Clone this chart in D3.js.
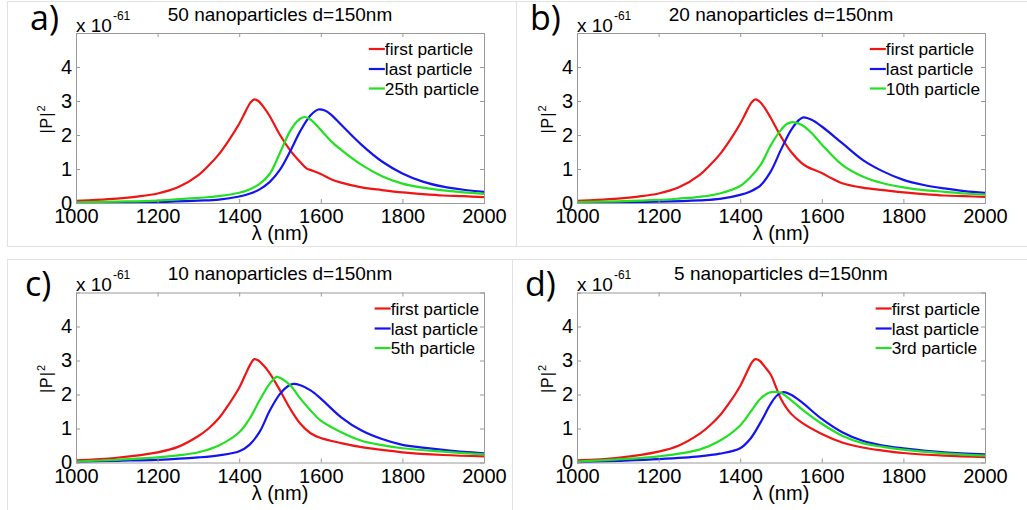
<!DOCTYPE html>
<html><head><meta charset="utf-8">
<script src="https://cdn.jsdelivr.net/npm/d3@7"></script>
<style>
html,body{margin:0;padding:0;background:#fff;}
svg{display:block;font-family:"Liberation Sans",Arial,sans-serif;}
</style></head>
<body>
<svg id="chart" width="1027" height="510"></svg>
<script>
// ---- data ----
const xTicks = [1000, 1200, 1400, 1600, 1800, 2000];
const yTicks = [0, 1, 2, 3, 4, 5];
const yTickLabels = ["0", "1", "2", "3", "4", ""];
const panelLetters = ["a)", "b)", "c)", "d)"];
const panelTitles = ["50 nanoparticles d=150nm", "20 nanoparticles d=150nm", "10 nanoparticles d=150nm", "5 nanoparticles d=150nm"];
const legendLabels = [
  ["first particle", "last particle", "25th particle"],
  ["first particle", "last particle", "10th particle"],
  ["first particle", "last particle", "5th particle"],
  ["first particle", "last particle", "3rd particle"]
];
const seriesColors = ["#f01414", "#1414f0", "#22e022"];

const a_first = [[1000,.06],[1050,.09],[1100,.13],[1150,.19],[1200,.28],[1250,.46],[1300,.82],[1325,1.1],[1350,1.43],[1375,1.85],[1400,2.33],[1415,2.68],[1428,2.96],[1437,3.05],[1447,3.0],[1460,2.82],[1475,2.55],[1500,2.0],[1525,1.55],[1550,1.2],[1565,1.02],[1580,0.95],[1600,0.85],[1625,0.7],[1650,0.6],[1700,0.46],[1750,0.38],[1800,0.31],[1850,0.26],[1900,0.22],[1950,0.2],[2000,0.17]];
const a_last = [[1000,.01],[1100,.02],[1200,.03],[1300,.07],[1350,.1],[1400,.19],[1425,.27],[1450,.4],[1475,.62],[1500,.98],[1525,1.52],[1550,2.12],[1575,2.58],[1594,2.75],[1610,2.72],[1625,2.6],[1650,2.3],[1700,1.71],[1750,1.22],[1800,.87],[1850,.63],[1900,.48],[1950,.39],[2000,.33]];
const a_mid = [[1000,.02],[1100,.04],[1200,.07],[1300,.15],[1350,.2],[1400,.3],[1425,.4],[1450,.56],[1475,.86],[1500,1.48],[1525,2.12],[1545,2.44],[1561,2.53],[1575,2.45],[1600,2.15],[1625,1.82],[1650,1.56],[1700,1.12],[1750,.79],[1800,.57],[1850,.45],[1900,.37],[1950,.31],[2000,.27]];

const b_first = [[1000,.06],[1050,.09],[1100,.13],[1150,.19],[1200,.28],[1250,.46],[1300,.82],[1325,1.1],[1350,1.43],[1375,1.85],[1400,2.33],[1415,2.68],[1428,2.96],[1437,3.05],[1447,2.99],[1460,2.8],[1475,2.5],[1500,1.95],[1525,1.5],[1550,1.18],[1565,1.06],[1600,0.88],[1625,0.72],[1650,0.58],[1700,0.45],[1750,0.38],[1800,0.31],[1850,0.26],[1900,0.22],[1950,0.2],[2000,0.18]];
const b_last = [[1000,.01],[1100,.02],[1200,.04],[1300,.08],[1350,.12],[1400,.24],[1425,.34],[1450,.52],[1475,.93],[1500,1.57],[1525,2.15],[1545,2.45],[1555,2.52],[1575,2.45],[1600,2.25],[1650,1.76],[1700,1.27],[1750,.93],[1800,.68],[1850,.53],[1900,.43],[1950,.35],[2000,.3]];
const b_mid = [[1000,.03],[1100,.05],[1200,.09],[1250,.13],[1300,.18],[1350,.28],[1400,.5],[1425,.76],[1450,1.12],[1475,1.7],[1500,2.15],[1515,2.33],[1529,2.38],[1550,2.3],[1575,2.06],[1600,1.72],[1650,1.12],[1700,.78],[1750,.58],[1800,.46],[1850,.38],[1900,.33],[1950,.28],[2000,.25]];

const c_first = [[1000,.06],[1100,.14],[1200,.3],[1250,.46],[1300,.78],[1325,1.0],[1350,1.3],[1375,1.72],[1400,2.2],[1415,2.58],[1428,2.9],[1437,3.04],[1447,3.0],[1460,2.85],[1475,2.62],[1500,2.12],[1525,1.58],[1550,1.14],[1575,0.86],[1600,0.72],[1650,0.57],[1700,0.45],[1750,0.37],[1800,0.3],[1900,0.22],[2000,0.18]];
const c_last = [[1000,.02],[1100,.05],[1200,.08],[1300,.15],[1350,.21],[1400,.33],[1425,.52],[1450,.9],[1475,1.53],[1500,2.02],[1520,2.25],[1533,2.31],[1550,2.27],[1575,2.12],[1600,1.88],[1650,1.33],[1700,.94],[1750,.69],[1800,.52],[1850,.44],[1900,.37],[1950,.31],[2000,.27]];
const c_mid = [[1000,.03],[1100,.08],[1200,.15],[1250,.21],[1300,.3],[1350,.5],[1400,.89],[1425,1.28],[1450,1.83],[1475,2.32],[1492,2.52],[1500,2.49],[1525,2.27],[1550,1.88],[1575,1.53],[1600,1.23],[1650,.89],[1700,.64],[1750,.51],[1800,.42],[1900,.32],[2000,.24]];

const d_first = [[1000,.06],[1100,.14],[1200,.32],[1250,.5],[1300,.84],[1325,1.08],[1350,1.38],[1375,1.78],[1400,2.25],[1415,2.62],[1428,2.93],[1437,3.04],[1447,3.0],[1460,2.82],[1475,2.58],[1490,2.15],[1500,1.87],[1525,1.43],[1550,1.18],[1600,.84],[1650,.59],[1700,.44],[1750,.35],[1800,.28],[1900,.2],[2000,.16]];
const d_last = [[1000,.01],[1100,.05],[1200,.1],[1300,.18],[1350,.26],[1400,.42],[1425,.7],[1450,1.18],[1475,1.73],[1490,1.97],[1506,2.07],[1525,1.99],[1550,1.78],[1600,1.28],[1650,.89],[1700,.64],[1750,.5],[1800,.42],[1900,.3],[2000,.24]];
const d_mid = [[1000,.03],[1100,.09],[1200,.18],[1300,.38],[1350,.64],[1400,1.09],[1425,1.48],[1450,1.88],[1470,2.05],[1485,2.08],[1500,2.05],[1525,1.83],[1550,1.58],[1600,1.14],[1650,.79],[1700,.57],[1750,.46],[1800,.38],[1900,.27],[2000,.2]];

const panelSeries = [
  [a_first, a_last, a_mid],
  [b_first, b_last, b_mid],
  [c_first, c_last, c_mid],
  [d_first, d_last, d_mid]
];

// ---- layout ----
const W = 408, H = 170;
const panelPos = [
  {x: 76, y: 33, lx: 30, ly: 30},
  {x: 577, y: 33, lx: 530, ly: 30},
  {x: 76, y: 292.5, lx: 25, ly: 296},
  {x: 577, y: 292.5, lx: 525, ly: 296}
];
const axisColor = "#9a9a9a";

const svg = d3.select("#chart");
svg.append("rect").attr("width", 1027).attr("height", 510).attr("fill", "#fff");

// faint frame lines around the pasted panels
const frame = svg.append("g").attr("stroke", "#e2e2e2").attr("stroke-width", 1).attr("fill", "none");
[[7, 1.5, 1027, 1.5], [7, 246.5, 1027, 246.5], [7.5, 1.5, 7.5, 246.5], [516.5, 1.5, 516.5, 246.5],
 [7, 259.5, 1027, 259.5], [7.5, 259.5, 7.5, 510], [512.5, 259.5, 512.5, 510]].forEach(l => {
  frame.append("line").attr("x1", l[0]).attr("y1", l[1]).attr("x2", l[2]).attr("y2", l[3]);
});

const x = d3.scaleLinear().domain([1000, 2000]).range([0, W]);
const y = d3.scaleLinear().domain([0, 5]).range([H, 0]);
const line = d3.line().x(d => x(d[0])).y(d => y(d[1])).curve(d3.curveCatmullRom.alpha(0.5));

function styleAxis(g) {
  g.select(".domain").remove();
  g.selectAll(".tick line").attr("stroke", axisColor);
  g.selectAll(".tick text").attr("fill", "#000");
}

panelPos.forEach((p, i) => {
  const g = svg.append("g").attr("transform", `translate(${p.x},${p.y})`);

  // curves
  panelSeries[i].forEach((s, k) => {
    g.append("path").datum(s).attr("d", line).attr("fill", "none")
      .attr("stroke", seriesColors[k]).attr("stroke-width", 2.2)
      .attr("stroke-linejoin", "round");
  });

  // axes (inward ticks)
  g.append("g").attr("transform", `translate(0,${H})`)
    .call(d3.axisBottom(x).tickValues(xTicks).tickFormat(d3.format("d")).tickSizeInner(-4).tickSizeOuter(0).tickPadding(6))
    .call(styleAxis)
    .selectAll("text").attr("font-size", 20).attr("font-family", "Liberation Sans, Arial, sans-serif");
  g.append("g")
    .call(d3.axisTop(x).tickValues(xTicks).tickFormat("").tickSizeInner(-4).tickSizeOuter(0))
    .call(styleAxis);
  g.append("g")
    .call(d3.axisLeft(y).tickValues(yTicks).tickFormat((d, j) => yTickLabels[j]).tickSizeInner(-4).tickSizeOuter(0).tickPadding(4))
    .call(styleAxis)
    .selectAll("text").attr("font-size", 20).attr("font-family", "Liberation Sans, Arial, sans-serif");
  g.append("g").attr("transform", `translate(${W},0)`)
    .call(d3.axisRight(y).tickValues(yTicks).tickFormat("").tickSizeInner(-4).tickSizeOuter(0))
    .call(styleAxis);

  // box
  g.append("rect").attr("x", 0.5).attr("y", 0.5).attr("width", W).attr("height", H)
    .attr("fill", "none").attr("stroke", axisColor).attr("stroke-width", 1);

  // title
  g.append("text").attr("x", W / 2).attr("y", -12.5).attr("text-anchor", "middle")
    .attr("font-size", 19).text(panelTitles[i]);

  // exponent
  const ex = g.append("text").attr("x", 0).attr("y", -1.5).attr("font-size", 19);
  ex.append("tspan").text("x 10");
  ex.append("tspan").attr("font-size", 12).attr("dy", -12).attr("dx", 1).text("-61");

  // x label
  g.append("text").attr("x", W / 2).attr("y", H + 37).attr("text-anchor", "middle")
    .attr("font-size", 20).text("λ (nm)");

  // y label
  const yl = g.append("text").attr("transform", `translate(-24,${H / 2 + 1}) rotate(-90)`)
    .attr("text-anchor", "middle").attr("font-size", 16).attr("letter-spacing", 1);
  yl.append("tspan").text("|P|");
  yl.append("tspan").attr("font-size", 11).attr("dy", -7).text("2");

  // legend
  const lg = g.append("g");
  const rows = [16, 36, 55.5];
  const texts = legendLabels[i].map((t, k) => lg.append("text").attr("font-size", 17.3).attr("y", rows[k]).attr("dy", "0.35em").text(t));
  const maxW = d3.max(texts, t => t.node().getComputedTextLength());
  const tx = W - 5 - maxW;
  texts.forEach((t, k) => {
    t.attr("x", tx);
    lg.append("line").attr("x1", tx - 16).attr("x2", tx).attr("y1", rows[k]).attr("y2", rows[k])
      .attr("stroke", seriesColors[k]).attr("stroke-width", 2.2);
  });

  // panel letter
  svg.append("text").attr("x", p.lx).attr("y", p.ly).attr("font-size", 34)
    .attr("font-family", "Open Sans, Liberation Sans, sans-serif").text(panelLetters[i]);
});
</script>
</body></html>
